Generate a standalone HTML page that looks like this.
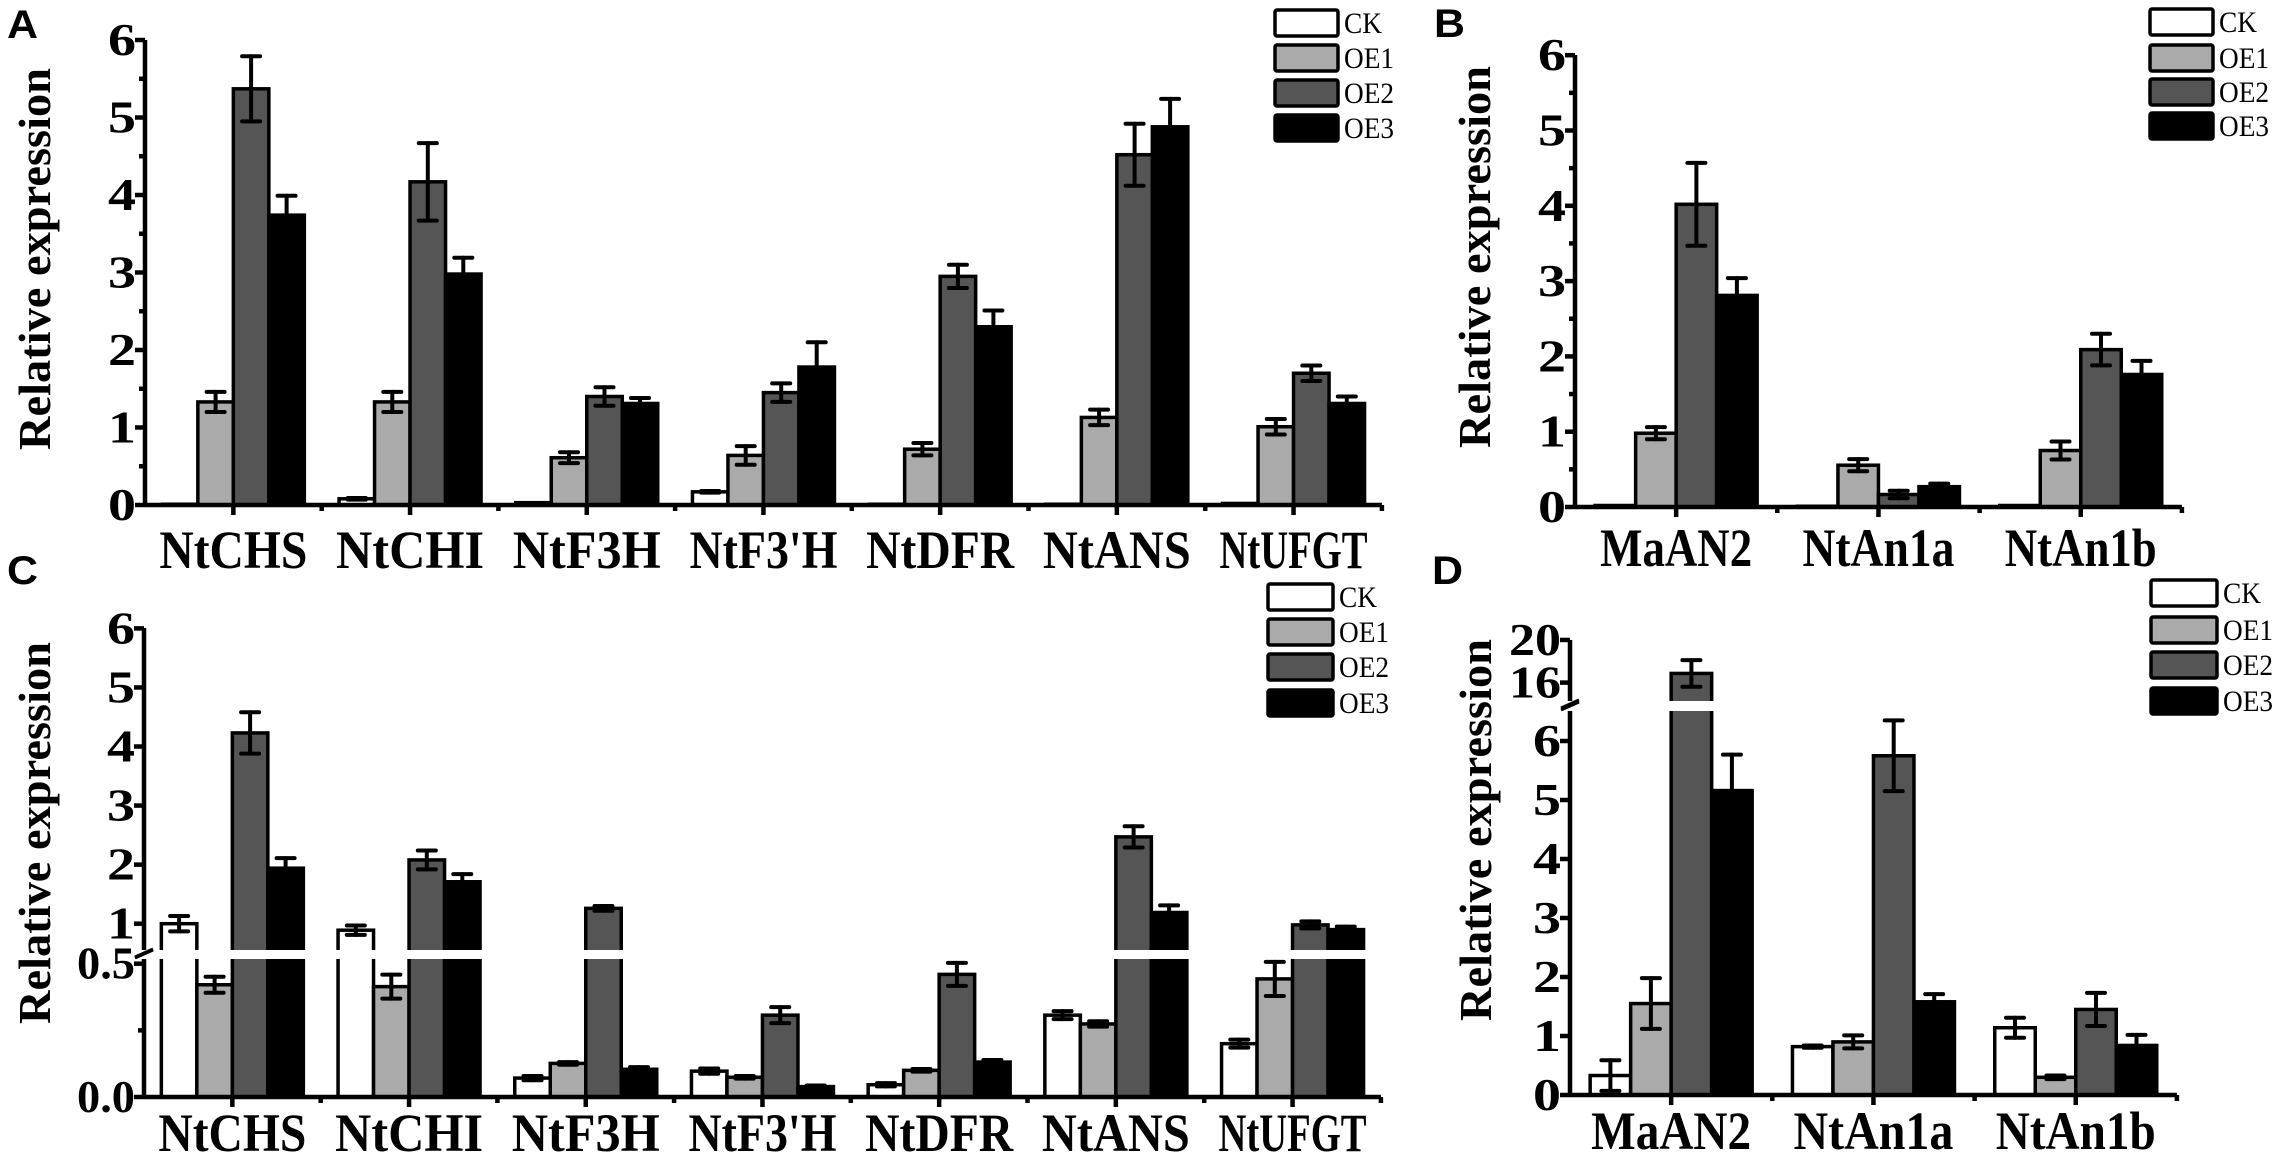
<!DOCTYPE html>
<html><head><meta charset="utf-8"><title>Relative expression charts</title>
<style>
html,body{margin:0;padding:0;background:#fff;}
svg{display:block;}
text{font-family:"Liberation Serif",serif;}
</style></head>
<body>
<svg id="fig" width="2286" height="1157" viewBox="0 0 2286 1157" xmlns="http://www.w3.org/2000/svg"></svg>
<script>
// ---------- DATA ----------
const seriesNames = ["CK","OE1","OE2","OE3"];
const catsA = ["NtCHS","NtCHI","NtF3H","NtF3'H","NtDFR","NtANS","NtUFGT"];
const aCK  = [0.01,0.08,0.03,0.17,0.01,0.01,0.02];
const aOE1 = [1.33,1.33,0.61,0.64,0.72,1.13,1.01];
const aOE2 = [5.37,4.17,1.40,1.45,2.95,4.52,1.70];
const aOE3 = [3.74,2.98,1.31,1.78,2.30,4.88,1.31];
const aErrCK  = [0,0.01,0,0.01,0,0,0];
const aErrOE1 = [0.13,0.13,0.07,0.12,0.08,0.10,0.10];
const aErrOE2 = [0.42,0.50,0.12,0.12,0.15,0.40,0.10];
const aErrOE3 = [0.25,0.21,0.07,0.32,0.21,0.36,0.09];

const catsB = ["MaAN2","NtAn1a","NtAn1b"];
const bCK  = [0.02,0.01,0.02];
const bOE1 = [0.98,0.555,0.75];
const bOE2 = [4.02,0.166,2.09];
const bOE3 = [2.81,0.27,1.76];
const bErrCK  = [0,0,0];
const bErrOE1 = [0.08,0.08,0.12];
const bErrOE2 = [0.55,0.05,0.21];
const bErrOE3 = [0.23,0.04,0.18];

const catsC = ["NtCHS","NtCHI","NtF3H","NtF3'H","NtDFR","NtANS","NtUFGT"];
const cCK  = [1.00,0.89,0.071,0.097,0.046,0.307,0.20];
const cOE1 = [0.421,0.414,0.126,0.074,0.10,0.274,0.443];
const cOE2 = [4.23,2.08,1.26,0.307,0.46,2.47,0.98];
const cOE3 = [1.94,1.71,0.104,0.039,0.131,1.19,0.90];
const cErrCK  = [0.13,0.08,0.008,0.01,0.006,0.015,0.015];
const cErrOE1 = [0.03,0.045,0.005,0.005,0.005,0.01,0.064];
const cErrOE2 = [0.35,0.16,0.04,0.03,0.043,0.18,0.06];
const cErrOE3 = [0.17,0.13,0.008,0.004,0.008,0.12,0.05];

const catsD = ["MaAN2","NtAn1a","NtAn1b"];
const dCK  = [0.33,0.82,1.14];
const dOE1 = [1.55,0.90,0.30];
const dOE2 = [16.86,5.75,1.45];
const dOE3 = [5.16,1.58,0.84];
const dErrCK  = [0.26,0.02,0.17];
const dErrOE1 = [0.43,0.11,0.03];
const dErrOE2 = [1.25,0.60,0.28];
const dErrOE3 = [0.61,0.13,0.18];

const ticksA = [0,1,2,3,4,5,6];
const ticksC = [0,0.5,1,2,3,4,5,6];
const ticksCLabels = ["0.0","0.5","1","2","3","4","5","6"];
const ticksD = [0,1,2,3,4,5,6,16,20];

// ---------- DRAW ----------
const NS = "http://www.w3.org/2000/svg";
const svg = document.getElementById('fig');
const fills = ['#ffffff','#aaaaaa','#555555','#000000'];
function mk(tag, attrs, parent){
  const e = document.createElementNS(NS, tag);
  for (const k in attrs) e.setAttribute(k, attrs[k]);
  (parent||svg).appendChild(e);
  return e;
}
function txt(str, x, y, size, anchor, weight, len, parent, family){
  const t = mk('text', {x:x, y:y, 'font-size':size, 'text-anchor':anchor, 'font-weight':weight, textLength:len, lengthAdjust:'spacingAndGlyphs'}, parent);
  if (family) t.setAttribute('style','font-family:'+family);
  t.textContent = str;
  return t;
}

function panel(cfg){
  const g = mk('g', {});
  
  
  const series = [cfg.s0, cfg.s1, cfg.s2, cfg.s3];
  const errs = [cfg.e0, cfg.e1, cfg.e2, cfg.e3];
  const xc = i => cfg.x0 + cfg.step*(i+0.5);
  for (let s=0; s<4; s++){
    for (let i=0; i<cfg.cats.length; i++){
      const v = series[s][i];
      const x = xc(i) - 2*cfg.bw + s*cfg.bw;
      const yt = cfg.y(v);
      const r = mk('rect', {x:x, y:yt, width:cfg.bw, height:Math.max(cfg.base-yt,0.5), fill:fills[s], stroke:'#000', 'stroke-width':3.5}, g);
      
      
    }
  }
  if (cfg.gap){
    const gr = mk('rect', {x:cfg.x0+4, y:cfg.gap[0], width:cfg.step*cfg.cats.length, height:cfg.gap[1]-cfg.gap[0], fill:'#fff'}, g);
    
    
  }
  for (let s=0; s<4; s++){
    for (let i=0; i<cfg.cats.length; i++){
      const v = series[s][i], e = errs[s][i];
      if (e <= 0) continue;
      const cx = xc(i) - 2*cfg.bw + s*cfg.bw + cfg.bw/2;
      const y1 = cfg.y(v+e), y2 = cfg.y(Math.max(v-e,0));
      const eg = mk('g', {stroke:'#000','stroke-width':4,'stroke-linecap':'round'}, g);
      
      
      mk('line', {x1:cx, y1:y1, x2:cx, y2:y2}, eg);
      mk('line', {x1:cx-9, y1:y1, x2:cx+9, y2:y1}, eg);
      mk('line', {x1:cx-9, y1:y2, x2:cx+9, y2:y2}, eg);
    }
  }
  const ax = mk('g', {stroke:'#000','stroke-width':4.5,fill:'none'}, g);
  
  
  const xEnd = cfg.x0 + cfg.step*cfg.cats.length;
  mk('line', {x1:cfg.x0, y1:cfg.base, x2:xEnd, y2:cfg.base}, ax);
  if (cfg.gap){
    mk('line', {x1:cfg.x0, y1:cfg.base+2, x2:cfg.x0, y2:cfg.gap[1]}, ax);
    mk('line', {x1:cfg.x0, y1:cfg.gap[0], x2:cfg.x0, y2:cfg.top}, ax);
    mk('line', {x1:cfg.x0-9, y1:cfg.gap[1]-1, x2:cfg.x0+9, y2:cfg.gap[1]-9}, ax).setAttribute('stroke-width',3);
    mk('line', {x1:cfg.x0-9, y1:cfg.gap[0]+7, x2:cfg.x0+9, y2:cfg.gap[0]-1}, ax).setAttribute('stroke-width',3);
  } else {
    mk('line', {x1:cfg.x0, y1:cfg.base+2, x2:cfg.x0, y2:cfg.top}, ax);
  }
  for (let i=0; i<cfg.cats.length; i++){
    mk('line', {x1:xc(i), y1:cfg.base, x2:xc(i), y2:cfg.base+10}, ax);
    mk('line', {x1:cfg.x0+cfg.step*(i+1), y1:cfg.base, x2:cfg.x0+cfg.step*(i+1), y2:cfg.base+6}, ax);
  }
  cfg.ticks.forEach((t,k) => {
    mk('line', {x1:cfg.x0-10, y1:cfg.y(t), x2:cfg.x0, y2:cfg.y(t)}, ax);
    const lab = cfg.tickLabels ? cfg.tickLabels[k] : String(t);
    const tl = txt(lab, cfg.x0-9, cfg.y(t)+15, 46, 'end', 'bold', lab.length===1?28:(lab.length===2?52:58), g);
    
    
  });
  (cfg.minor||[]).forEach(t => mk('line', {x1:cfg.x0-6, y1:cfg.y(t), x2:cfg.x0, y2:cfg.y(t)}, ax));
  cfg.cats.forEach((c,i) => {
    const t = txt(c, xc(i), cfg.labY, 54, 'middle', 'bold', cfg.labLen, g);
    
    
  });
  const yt = mk('text', {x:0, y:0, 'font-size':46, 'font-weight':'bold','text-anchor':'middle', textLength:382, lengthAdjust:'spacingAndGlyphs', transform:'translate('+cfg.titleX+','+cfg.titleY+') rotate(-90)'}, g);
  yt.textContent = 'Relative expression';
  
  
  const lg = mk('g', {}, g);
  
  
  cfg.legRows.forEach((ry,s) => {
    const r = mk('rect', {x:cfg.legX, y:ry, width:cfg.legW, height:26, fill:fills[s], stroke:'#000','stroke-width':3.5, rx:2}, lg);
    
    
    const t = txt(seriesNames[s], cfg.legX+cfg.legW+6, ry+23, 30, 'start', 'normal', s===0?38:50, lg);
    
    
  });
  const pl = txt(cfg.letter, cfg.letterX, cfg.letterY, 40, 'start', 'bold', 31, g, '"Liberation Sans",sans-serif');
  
  
}

const half = [0.5,1.5,2.5,3.5,4.5,5.5];

panel({name:'panel-a', letter:'A', letterX:7, letterY:38, cats:catsA,
  s0:aCK,s1:aOE1,s2:aOE2,s3:aOE3,e0:aErrCK,e1:aErrOE1,e2:aErrOE2,e3:aErrOE3,
  x0:145, step:176.7, bw:35.5, base:505, top:40, y:v=>505-v*77.5,
  ticks:ticksA, minor:half, labY:568, labLen:148, titleX:50, titleY:259,
  legX:1275, legW:63, legRows:[10,45,80,115]});

panel({name:'panel-b', letter:'B', letterX:1434, letterY:37, cats:catsB,
  s0:bCK,s1:bOE1,s2:bOE2,s3:bOE3,e0:bErrCK,e1:bErrOE1,e2:bErrOE2,e3:bErrOE3,
  x0:1575, step:202.3, bw:40.5, base:507, top:55, y:v=>507-v*75.3,
  ticks:ticksA, minor:half, labY:566, labLen:152, titleX:1490, titleY:257,
  legX:2150, legW:63, legRows:[9,45,79,113]});

panel({name:'panel-c', letter:'C', letterX:7, letterY:584, cats:catsC,
  s0:cCK,s1:cOE1,s2:cOE2,s3:cOE3,e0:cErrCK,e1:cErrOE1,e2:cErrOE2,e3:cErrOE3,
  x0:144, step:176.7, bw:35.5, base:1097, top:628,
  y:v=> v<=0.53 ? 1097-v*266.6 : 923.7-(v-1)*59.06, gap:[950,959],
  ticks:ticksC, tickLabels:ticksCLabels, minor:[0.25], labY:1151, labLen:148, titleX:50, titleY:833,
  legX:1268, legW:65, legRows:[584,619,654,690]});

panel({name:'panel-d', letter:'D', letterX:1432, letterY:584, cats:catsD,
  s0:dCK,s1:dOE1,s2:dOE2,s3:dOE3,e0:dErrCK,e1:dErrOE1,e2:dErrOE2,e3:dErrOE3,
  x0:1570, step:202.3, bw:40.5, base:1095, top:640,
  y:v=> v<=6.6 ? 1095-v*59 : 682.6-(v-16)*10.66, gap:[701,711],
  ticks:ticksD, minor:[], labY:1149, labLen:160, titleX:1491, titleY:830,
  legX:2151, legW:66, legRows:[580,617,652,688]});
</script>
</body></html>
